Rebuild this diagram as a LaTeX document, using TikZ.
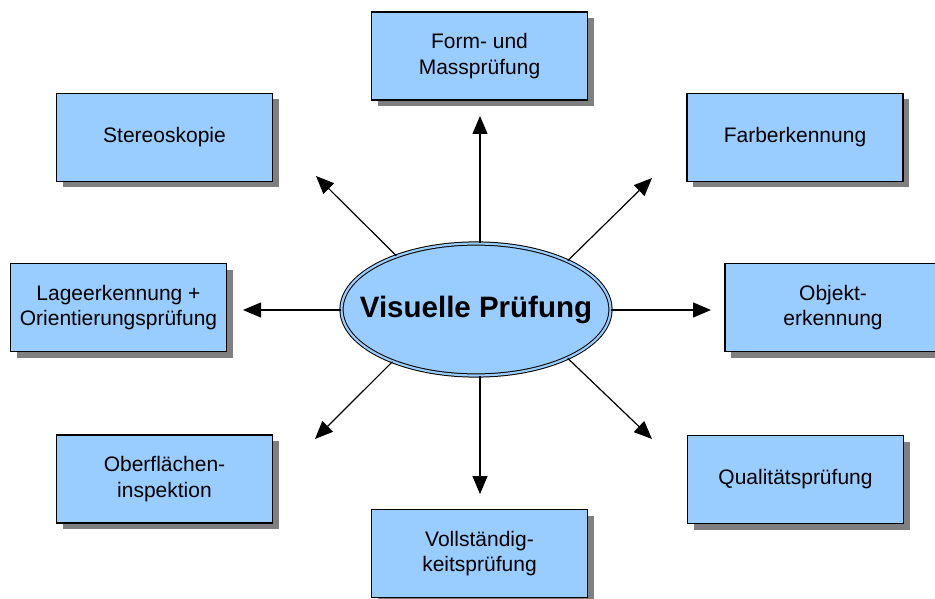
\documentclass[tikz,border=0pt]{standalone}
\usepackage{fontspec}
\setmainfont{Liberation Sans}
\usetikzlibrary{arrows.meta,shadows,shapes.geometric}
\definecolor{boxblue}{HTML}{99CCFF}
\definecolor{shadowgray}{HTML}{7F7F7F}
\begin{document}
\begin{tikzpicture}[x=1pt,y=-1pt,
  topic/.style={draw=black, line width=1.2pt, fill=boxblue, minimum width=216pt, minimum height=88pt,
    align=center, font=\fontsize{21}{25.5}\selectfont, inner sep=0pt,
    drop shadow={shadow xshift=6pt, shadow yshift=-6pt, fill=shadowgray, opacity=1}},
  hub/.style={ellipse, draw=black, line width=1pt, double=boxblue, double distance=2.2pt, fill=boxblue,
    minimum width=269pt, minimum height=132pt, inner sep=0pt, font=\bfseries\fontsize{29.5}{32}\selectfont},
  link/.style={line width=1.2pt, -{Triangle[length=18pt,width=15pt]}}]
\useasboundingbox (0,0) rectangle (935,599);
\begin{scope}
\clip (0,0) rectangle (935,599);
\node[topic] (form) at (479.5,56) {Form- und\\Massprüfung};
\node[topic] (stereo) at (164.5,137.5) {Stereoskopie};
\node[topic] (farb) at (795,137.5) {Farberkennung};
\node[topic] (lage) at (118.5,307.5) {Lageerkennung +\\Orientierungsprüfung};
\node[topic] (objekt) at (833,307.5) {Objekt-\\erkennung};
\node[topic] (ober) at (164.5,479) {Oberflächen-\\inspektion};
\node[topic] (qual) at (795.5,479.5) {Qualitätsprüfung};
\node[topic] (voll) at (479.5,553.5) {Vollständig-\\keitsprüfung};
\end{scope}
\node[hub] (c) at (476,309.5) {\makebox[0pt]{Visuelle Prüfung}};
\coordinate (tN) at (480,116);
\coordinate (tS) at (480,494);
\coordinate (tW) at (243,310);
\coordinate (tE) at (711,310);
\coordinate (tNW) at (316,176);
\coordinate (tNE) at (652,178);
\coordinate (tSW) at (315,439);
\coordinate (tSE) at (652,439);
\draw[link] (c.north -| tN) -- (tN);
\draw[link] (c.south -| tS) -- (tS);
\draw[link] (c.west |- tW) -- (tW);
\draw[link] (c.east |- tE) -- (tE);
\draw[link] (c.146) -- (tNW);
\draw[link] (c.28) -- (tNE);
\draw[link] (c.212) -- (tSW);
\draw[link] (c.332) -- (tSE);
\end{tikzpicture}
\end{document}
